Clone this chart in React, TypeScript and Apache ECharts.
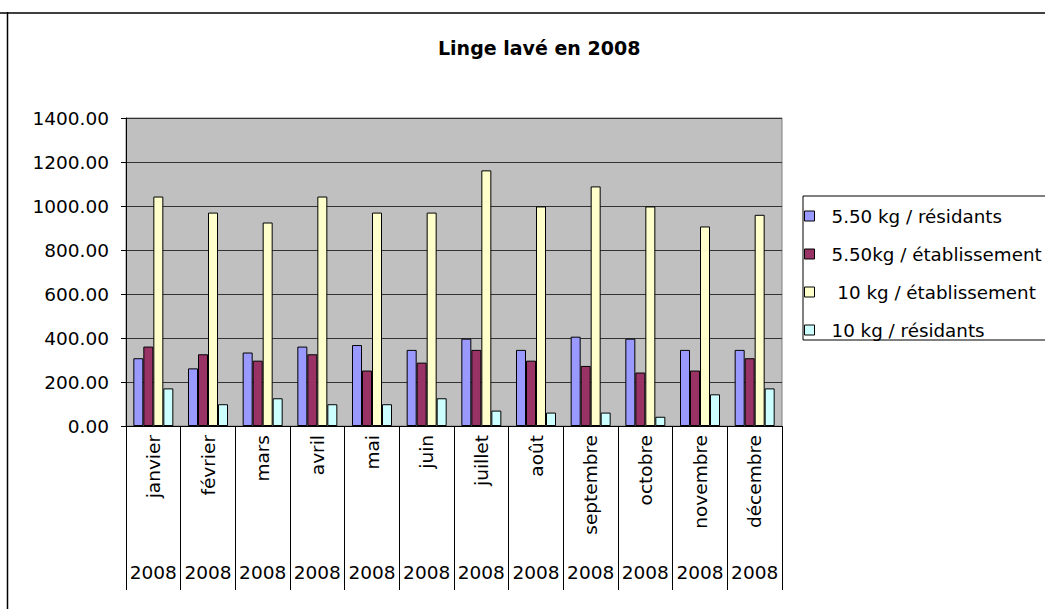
import React, { useEffect, useRef } from "react";
import * as echarts from "echarts";

const months = ["janvier", "février", "mars", "avril", "mai", "juin", "juillet", "août", "septembre", "octobre", "novembre", "décembre"];
const years = ["2008", "2008", "2008", "2008", "2008", "2008", "2008", "2008", "2008", "2008", "2008", "2008"];
const seriesNames = ["5.50 kg / résidants", "5.50kg / établissement", " 10 kg / établissement", "10 kg / résidants"];
const res550 = [308, 262, 334, 361, 368, 346, 397, 346, 406, 397, 346, 346];
const etab550 = [361, 326, 297, 326, 252, 288, 346, 297, 273, 243, 252, 308];
const etab10 = [1043, 970, 925, 1043, 970, 970, 1162, 998, 1089, 998, 907, 960];
const res10 = [171, 99, 126, 99, 99, 126, 70, 61, 61, 42, 144, 171];
const colors = ["#9999ff", "#993366", "#ffffcc", "#ccffff"];
const yTicks = { min: 0, max: 1400, interval: 200 };

const FONT = "DejaVu Sans";

export default function App() {
  const ref = useRef<HTMLDivElement>(null);
  useEffect(() => {
    const chart = echarts.init(ref.current!, undefined, { renderer: "svg" });
    const datasets = [res550, etab550, etab10, res10];
    chart.setOption({
      animation: false,
      backgroundColor: "#ffffff",
      title: {
        text: "Linge lavé en 2008",
        left: 433,
        top: 33,
        textStyle: { fontFamily: FONT, fontSize: 19, fontWeight: "bold", color: "#000" },
      },
      legend: {
        orient: "vertical",
        left: 803,
        top: 196,
        padding: [10, 60, 0, 1],
        borderColor: "#000",
        borderWidth: 1,
        icon: "rect",
        itemWidth: 10,
        itemHeight: 10,
        itemGap: 18,
        itemStyle: { borderColor: "#000", borderWidth: 1 },
        textStyle: { fontFamily: FONT, fontSize: 18.3, color: "#000", lineHeight: 20, padding: [0, 0, 0, 12] },
        data: seriesNames,
      },
      grid: {
        left: 126,
        right: 263,
        top: 118,
        bottom: 183,
        show: true,
        backgroundColor: "#c0c0c0",
        borderColor: "#808080",
        borderWidth: 1,
      },
      xAxis: [
        {
          type: "category",
          data: months,
          boundaryGap: true,
          axisLine: { show: true, lineStyle: { color: "#000", width: 1 } },
          axisTick: { show: true, length: 164, lineStyle: { color: "#000", width: 1 } },
          axisLabel: { rotate: 90, interval: 0, margin: 9, fontFamily: FONT, fontSize: 18.5, color: "#000" },
        },
        {
          type: "category",
          data: years,
          position: "bottom",
          axisLine: { show: false },
          axisTick: { show: false },
          axisLabel: { interval: 0, margin: 137, fontFamily: FONT, fontSize: 18.5, color: "#000" },
        },
      ],
      yAxis: {
        type: "value",
        min: yTicks.min,
        max: yTicks.max,
        interval: yTicks.interval,
        axisLine: { show: true, lineStyle: { color: "#000", width: 1 } },
        axisTick: { show: true, length: 5, inside: false, lineStyle: { color: "#000" } },
        axisLabel: {
          margin: 17,
          fontFamily: FONT,
          fontSize: 18.5,
          color: "#000",
          formatter: (v: number) => v.toFixed(2),
        },
        splitLine: { show: true, lineStyle: { color: "#333", width: 1 } },
      },
      series: seriesNames.map((name, i) => ({
        name,
        type: "bar",
        xAxisIndex: 0,
        data: datasets[i],
        barWidth: 10,
        barGap: "0%",
        itemStyle: { color: colors[i], borderColor: "#000", borderWidth: 1 },
      })),
      graphic: [
        { type: "line", shape: { x1: 0, y1: 13, x2: 1045, y2: 13 }, style: { stroke: "#404040", lineWidth: 2 } },
        { type: "line", shape: { x1: 7.5, y1: 12, x2: 7.5, y2: 609 }, style: { stroke: "#000", lineWidth: 1.5 } },
      ],
    });
    return () => chart.dispose();
  }, []);
  return <div ref={ref} style={{ position: "fixed", left: 0, top: 0, width: 1045, height: 609 }} />;
}
